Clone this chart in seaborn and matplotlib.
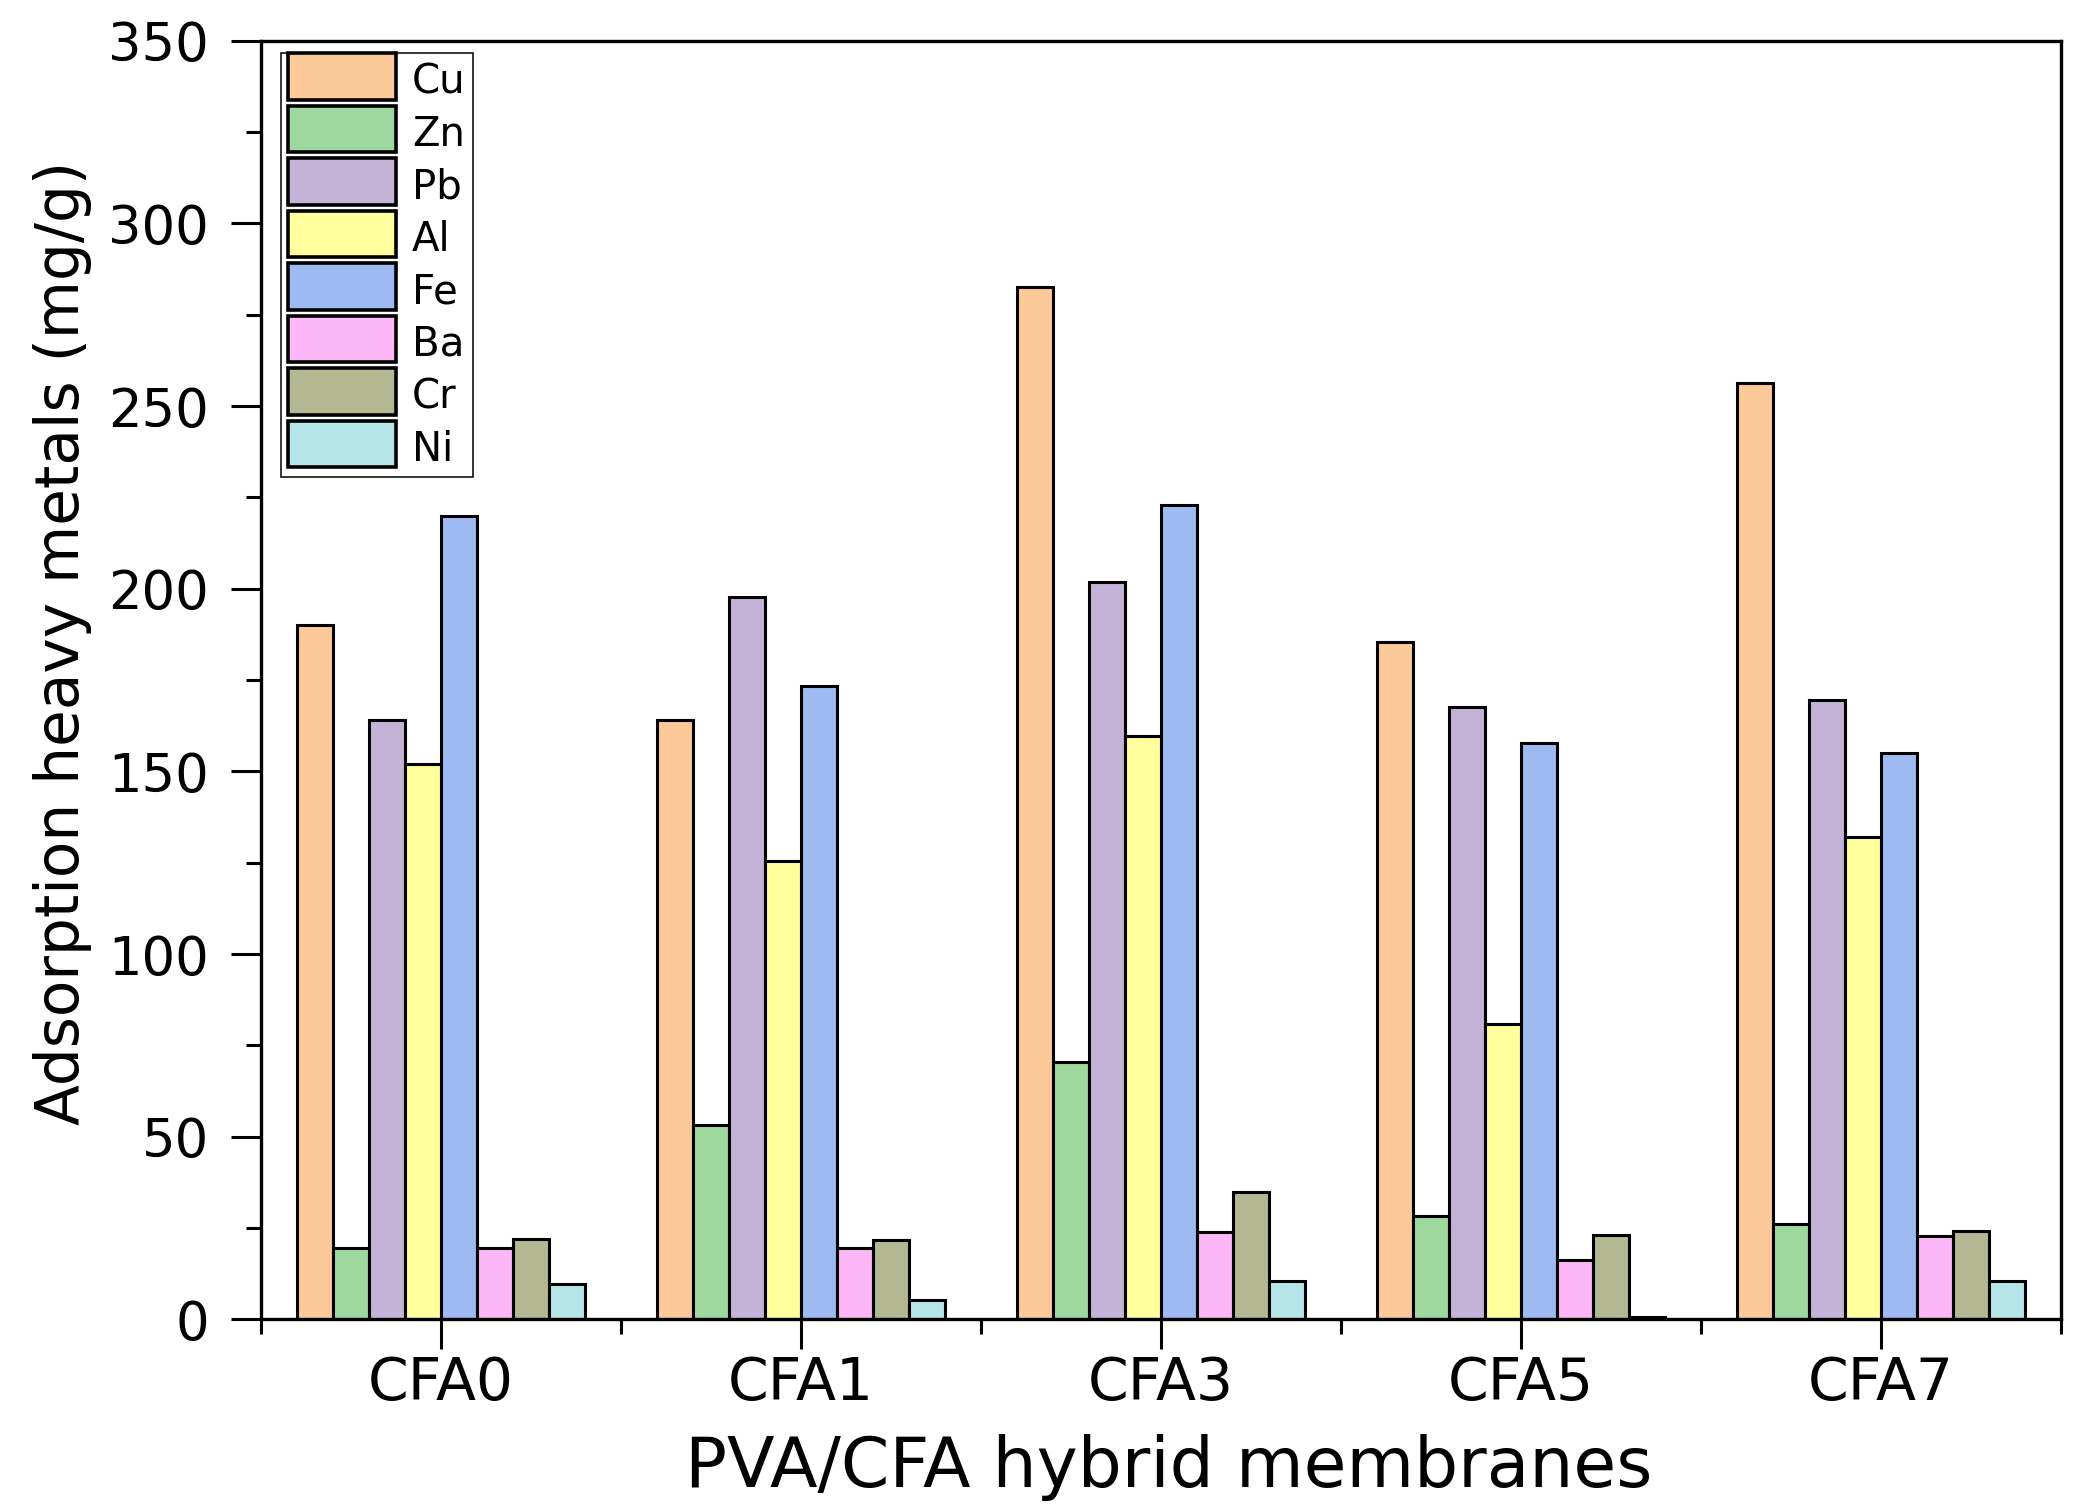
import matplotlib
matplotlib.use("Agg")
import matplotlib.pyplot as plt
import matplotlib.patches as mpatches
from matplotlib.legend_handler import HandlerPatch
from matplotlib.ticker import MultipleLocator, FixedLocator
import seaborn as sns
import pandas as pd

# ---- data ----
membranes = ["CFA0", "CFA1", "CFA3", "CFA5", "CFA7"]
metals = ["Cu", "Zn", "Pb", "Al", "Fe", "Ba", "Cr", "Ni"]
cu = [190.0, 164.0, 282.5, 185.3, 256.4]
zn = [19.6, 53.3, 70.4, 28.3, 26.0]
pb = [164.0, 197.7, 201.7, 167.6, 169.4]
al = [152.0, 125.5, 159.6, 80.9, 132.0]
fe = [219.8, 173.4, 223.0, 157.8, 154.9]
ba = [19.6, 19.6, 24.0, 16.3, 22.9]
cr = [22.0, 21.8, 34.8, 23.2, 24.3]
ni = [9.8, 5.4, 10.5, 0.7, 10.5]
colors = ["#FCC998", "#9FD89E", "#C3B3D7", "#FFFF9E",
          "#9DBAF2", "#FDB7F6", "#B3B792", "#B5E4E9"]

series = {"Cu": cu, "Zn": zn, "Pb": pb, "Al": al,
          "Fe": fe, "Ba": ba, "Cr": cr, "Ni": ni}
rows = []
for m in metals:
    for memb, v in zip(membranes, series[m]):
        rows.append({"membrane": memb, "metal": m, "value": v})
df = pd.DataFrame(rows)

sns.set_style("ticks")
plt.rcParams["font.family"] = ["DejaVu Sans"]
for key in ["text.color", "axes.labelcolor", "xtick.color", "ytick.color",
            "axes.edgecolor"]:
    plt.rcParams[key] = "black"

fig = plt.figure(figsize=(20.77, 15.07), dpi=100)
ax = fig.add_axes([0.1257, 0.1245, 0.9923 - 0.1257, 0.973 - 0.1245])

sns.barplot(data=df, x="membrane", y="value", hue="metal",
            order=membranes, hue_order=metals, palette=colors,
            saturation=1, edgecolor="black", linewidth=2.2, width=0.8,
            errorbar=None, ax=ax)

ax.set_ylim(0, 350)
ax.set_xlim(-0.5, 4.5)
ax.yaxis.set_major_locator(MultipleLocator(50))
ax.yaxis.set_minor_locator(MultipleLocator(25))
ax.xaxis.set_minor_locator(FixedLocator([-0.5, 0.5, 1.5, 2.5, 3.5, 4.5]))

for sp in ax.spines.values():
    sp.set_visible(True)
    sp.set_linewidth(2.4)
    sp.set_color("black")

ax.tick_params(axis="both", which="major", direction="out", length=21.5,
               width=2.2, color="black", labelcolor="black")
ax.tick_params(axis="both", which="minor", direction="out", length=10.8,
               width=2.2, color="black")
ax.tick_params(axis="y", which="major", labelsize=38, pad=16)
ax.tick_params(axis="x", which="major", labelsize=42, pad=4)

ax.set_xlabel("PVA/CFA hybrid membranes", fontsize=50, color="black")
ax.set_ylabel("Adsorption heavy metals (mg/g)", fontsize=43, color="black")
ax.xaxis.set_label_coords(0.5044, -0.0900)
ax.yaxis.set_label_coords(-0.0939, 0.529)

# legend
handles, labels = ax.get_legend_handles_labels()
if ax.get_legend() is not None:
    ax.get_legend().remove()


def full_patch(legend, orig_handle, xdescent, ydescent, width, height, fontsize):
    return mpatches.Rectangle((-xdescent, -ydescent), width, height + ydescent)


leg = ax.legend(handles, labels, loc="upper left",
                bbox_to_anchor=(0.0111, 0.9907), borderaxespad=0,
                fontsize=29, handlelength=2.67, handleheight=1.15,
                labelspacing=0.245, handletextpad=0.4, borderpad=0.18,
                frameon=True, fancybox=False, framealpha=1,
                edgecolor="black",
                handler_map={mpatches.Rectangle: HandlerPatch(patch_func=full_patch)})
leg.get_frame().set_linewidth(1.1)
for t in leg.get_texts():
    t.set_color("black")
for h in leg.legend_handles:
    h.set_edgecolor("black")
    h.set_linewidth(2.6)

fig.savefig("out.png", dpi=100)
